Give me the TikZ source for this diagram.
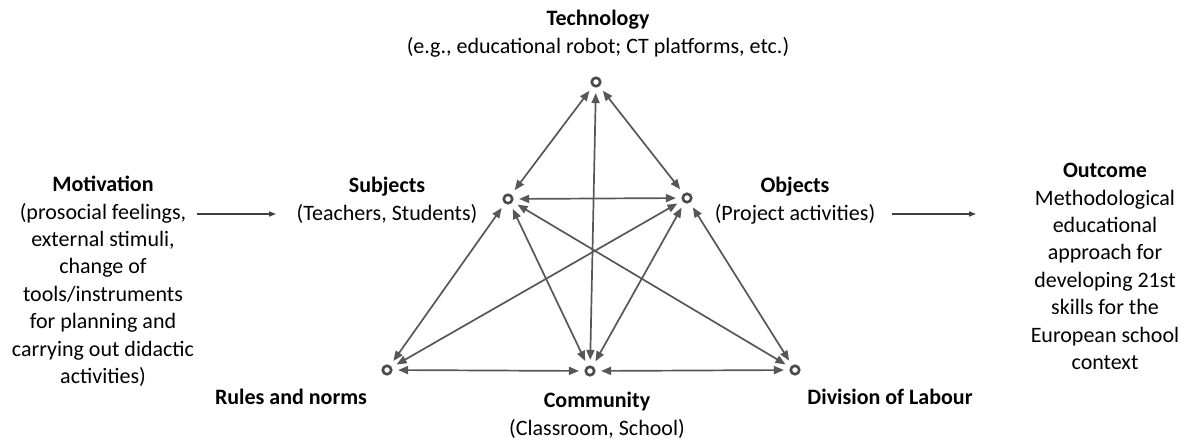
\documentclass[tikz,border=0pt]{standalone}
\usepackage{fontspec}
\setmainfont{Carlito}
\usetikzlibrary{arrows.meta}
\definecolor{arrgray}{HTML}{575757}
\definecolor{dotgray}{HTML}{4A4A4A}
\tikzset{
  dot/.style={circle,draw=dotgray,line width=2.6pt,minimum size=8.5pt,inner sep=0pt},
  link/.style={draw=arrgray,line width=1.7pt,
    {Triangle[length=10pt,width=8pt]}-{Triangle[length=10pt,width=8pt]},
    shorten <=5.5pt,shorten >=5.5pt},
  flow/.style={draw=black!75,line width=1.3pt,-{Triangle[length=7pt,width=5pt]}},
  lbl/.style={align=center,inner sep=0pt,font=\fontsize{22}{27.4}\selectfont},
}
\begin{document}
\begin{tikzpicture}[x=1pt,y=-1pt]
\useasboundingbox (0,0) rectangle (1188,443);
% points
\node[dot] (tech) at (596,82) {};
\node[dot] (subj) at (508,199) {};
\node[dot] (obj)  at (687,198) {};
\node[dot] (rules) at (387,370) {};
\node[dot] (comm) at (590,371) {};
\node[dot] (div)  at (795,370) {};
% labels
\node[lbl,anchor=north] (techL) at (598,10) {\textbf{Technology}\\(e.g., educational robot; CT platforms, etc.)};
\node[lbl,anchor=north] (subjL) at (387,177) {\textbf{Subjects}\\(Teachers, Students)};
\node[lbl,anchor=north] (objL) at (795,177) {\textbf{Objects}\\(Project activities)};
\node[lbl,anchor=north] (motL) at (103,176) {\textbf{Motivation}\\(prosocial feelings,\\external stimuli,\\change of\\tools/instruments\\for planning and\\carrying out didactic\\activities)};
\node[lbl,anchor=north] (outL) at (1105,163) {\textbf{Outcome}\\Methodological\\educational\\approach for\\developing 21st\\skills for the\\European school\\context};
\node[lbl] (rulesL) at (291,397) {\textbf{Rules and norms}};
\node[lbl,anchor=north] (commL) at (597,392) {\textbf{Community}\\(Classroom, School)};
\node[lbl] (divL) at (890,397) {\textbf{Division of Labour}};
% links
\draw[link] (tech) -- (subj);
\draw[link] (tech) -- (obj);
\draw[link] (tech) -- (comm);
\draw[link] (subj) -- (obj);
\draw[link] (subj) -- (rules);
\draw[link] (subj) -- (comm);
\draw[link] (subj) -- (div);
\draw[link] (obj) -- (rules);
\draw[link] (obj) -- (comm);
\draw[link] (obj) -- (div);
\draw[link] (rules) -- (comm);
\draw[link] (comm) -- (div);
% flows
\coordinate (m1) at (197,214);
\coordinate (m2) at (276,214);
\coordinate (o1) at (892,214);
\coordinate (o2) at (976,214);
\draw[flow] (m1) -- (m2);
\draw[flow] (o1) -- (o2);
\end{tikzpicture}
\end{document}
